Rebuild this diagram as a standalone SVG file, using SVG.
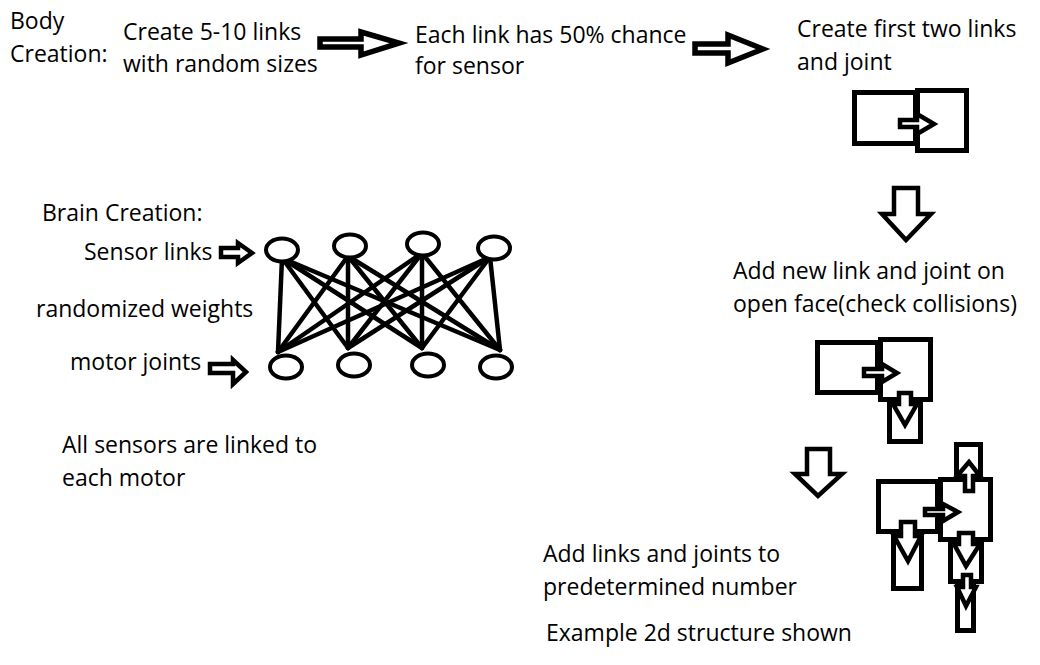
<svg xmlns="http://www.w3.org/2000/svg" width="1040" height="665" viewBox="0 0 1040 665">
<style>
text{font-family:"Open Sans","Noto Sans","Liberation Sans",sans-serif;font-size:23px;fill:#000}
.ba{fill:#fff;stroke:#000;stroke-width:5.5;stroke-linejoin:miter}
.sa{fill:#fff;stroke:#000;stroke-width:4.5;stroke-linejoin:miter}
.lk{fill:none;stroke:#000;stroke-width:5}
.nd{fill:#fff;stroke:#000;stroke-width:4}
.wl{stroke:#000;stroke-width:4.5;stroke-linecap:round}
</style>
<rect width="1040" height="665" fill="#fff"/>
<g id="labels">
<g id="body-title"><text x="10" y="29">Body</text><text x="10" y="62">Creation:</text></g>
<g id="step1"><text x="123" y="40">Create 5-10 links</text><text x="123" y="72">with random sizes</text></g>
<g id="step2"><text x="415" y="43">Each link has 50% chance</text><text x="415" y="74">for sensor</text></g>
<g id="step3"><text x="797" y="37">Create first two links</text><text x="797" y="70">and joint</text></g>
<g id="step4"><text x="733" y="279">Add new link and joint on</text><text x="733" y="312">open face(check collisions)</text></g>
<g id="step5"><text x="543" y="562">Add links and joints to</text><text x="543" y="595">predetermined number</text></g>
<g id="step5-note"><text x="546" y="641">Example 2d structure shown</text></g>
<g id="brain-title"><text x="42" y="221">Brain Creation:</text></g>
<g id="sensor-label"><text x="84" y="260">Sensor links</text></g>
<g id="weights-label"><text x="36" y="317">randomized weights</text></g>
<g id="motor-label"><text x="70" y="370">motor joints</text></g>
<g id="brain-note"><text x="62" y="453">All sensors are linked to</text><text x="62" y="486">each motor</text></g>
</g>
<g id="connectors">
<polygon class="ba" points="320,39 361,39 361,32 399,43 361,55 361,47 320,47"/>
<polygon class="ba" points="695,44 728,44 728,35 763,49 728,63 728,53 695,53"/>
<polygon class="sa" points="894,188 918,188 918,214 931,214 906,240 882,214 894,214"/>
<polygon class="sa" points="807,449 830,449 830,474 842,474 818,496 795,474 807,474"/>
<polygon class="sa" points="221,248 238,248 238,243 252,253 238,263 238,257 221,257"/>
<polygon class="sa" points="210,364 233,364 233,360 246,372 233,384 233,373 210,373"/>
<g id="weights">
<line class="wl" x1="282" y1="258" x2="278" y2="352"/>
<line class="wl" x1="282" y1="258" x2="348" y2="348"/>
<line class="wl" x1="282" y1="258" x2="422" y2="348"/>
<line class="wl" x1="282" y1="258" x2="500" y2="350"/>
<line class="wl" x1="348" y1="256" x2="278" y2="352"/>
<line class="wl" x1="348" y1="256" x2="348" y2="348"/>
<line class="wl" x1="348" y1="256" x2="422" y2="348"/>
<line class="wl" x1="348" y1="256" x2="500" y2="350"/>
<line class="wl" x1="422" y1="253" x2="278" y2="352"/>
<line class="wl" x1="422" y1="253" x2="348" y2="348"/>
<line class="wl" x1="422" y1="253" x2="422" y2="348"/>
<line class="wl" x1="422" y1="253" x2="500" y2="350"/>
<line class="wl" x1="490" y1="257" x2="278" y2="352"/>
<line class="wl" x1="490" y1="257" x2="348" y2="348"/>
<line class="wl" x1="490" y1="257" x2="422" y2="348"/>
<line class="wl" x1="490" y1="257" x2="500" y2="350"/>
</g>
</g>
<g id="network">
<g id="s1"><ellipse class="nd" cx="282" cy="250" rx="16" ry="11.5"/></g>
<g id="s2"><ellipse class="nd" cx="350" cy="246" rx="16" ry="11.5"/></g>
<g id="s3"><ellipse class="nd" cx="423" cy="244" rx="16" ry="11.5"/></g>
<g id="s4"><ellipse class="nd" cx="494" cy="248" rx="16" ry="11.5"/></g>
<g id="m1"><ellipse class="nd" cx="286" cy="367" rx="16" ry="11.5"/></g>
<g id="m2"><ellipse class="nd" cx="354" cy="365" rx="16" ry="11.5"/></g>
<g id="m3"><ellipse class="nd" cx="428" cy="365" rx="16" ry="11.5"/></g>
<g id="m4"><ellipse class="nd" cx="496" cy="367" rx="16" ry="11.5"/></g>
</g>
<g id="structure1">
<rect class="lk" x="854.5" y="92.5" width="61" height="51"/>
<rect class="lk" x="917.5" y="90.5" width="49" height="60"/>
<polygon class="sa" points="900,120 917,120 917,114 934,124 917,134 917,127 900,127"/>
</g>
<g id="structure2">
<rect class="lk" x="817.5" y="342.5" width="60" height="50"/>
<rect class="lk" x="880.5" y="339.5" width="50" height="60"/>
<rect class="lk" x="889.5" y="399.5" width="31" height="42"/>
<polygon class="sa" points="864,369 882,369 882,364 897,373 882,382 882,376 864,376"/>
<polygon class="sa" points="899,393 911,393 911,404 917,404 905,425 893,404 899,404"/>
</g>
<g id="structure3">
<rect class="lk" x="956.5" y="444.5" width="24" height="31"/>
<rect class="lk" x="878.5" y="481.5" width="59" height="50"/>
<rect class="lk" x="940.5" y="479.5" width="50" height="60"/>
<rect class="lk" x="893.5" y="536.5" width="28" height="52"/>
<rect class="lk" x="950.5" y="544.5" width="31" height="37"/>
<rect class="lk" x="957.5" y="586.5" width="16" height="44"/>
<polygon class="sa" points="965,491 973,491 973,476 980,476 969,462 957,476 965,476"/>
<polygon class="sa" points="925,509 943,509 943,504 958,512 943,521 943,515 925,515"/>
<polygon class="sa" points="901,522 915,522 915,536 921,536 908,561 894,536 901,536"/>
<polygon class="sa" points="959,533 973,533 973,544 980,544 966,566 954,544 959,544"/>
<polygon class="sa" points="963,575 971,575 971,587 976,587 966,606 957,587 963,587"/>
</g>
</svg>
